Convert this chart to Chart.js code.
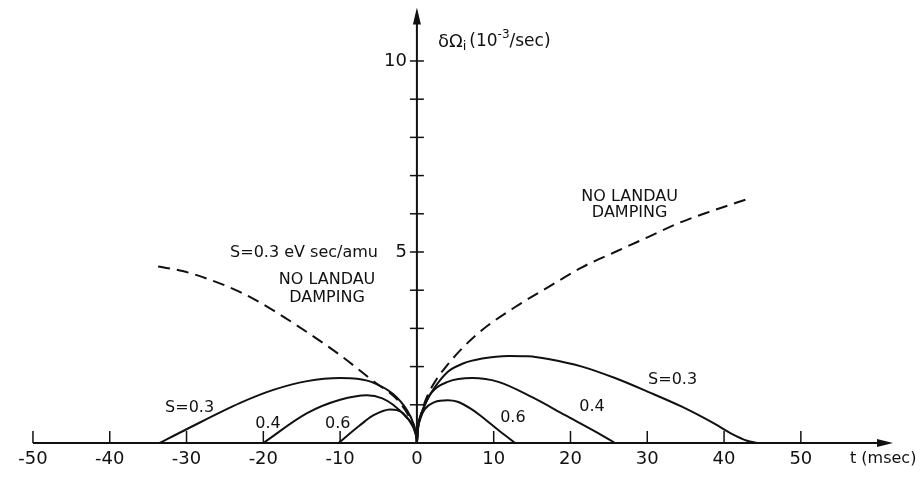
<!DOCTYPE html>
<html>
<head>
<meta charset="utf-8">
<script src="https://cdn.jsdelivr.net/npm/chart.js@4/dist/chart.umd.min.js"></script>
<style>
  body { margin: 0; background: #fff; }
  #wrap { width: 922px; height: 479px; }
</style>
</head>
<body>
<div id="wrap"><canvas id="myChart"></canvas></div>
<script>
// t in msec, values in 10^-3/sec
const xTicks = [-50, -40, -30, -20, -10, 0, 10, 20, 30, 40, 50]
const yTicks = [1, 2, 3, 4, 5, 6, 7, 8, 9, 10]
const yLabelled = [5, 10]

// no Landau damping (dashed)
const noDampLeftT = [-33.7, -30.5, -27.3, -23, -18.7, -14.3, -10, -5.7, -2.2, -0.6, -0.15, 0]
const noDampLeftV = [4.62, 4.5, 4.3, 3.95, 3.47, 2.9, 2.3, 1.62, 1.05, 0.5, 0.2, 0]
const noDampRightT = [0, 0.15, 0.5, 1.4, 2.5, 4, 6, 8.5, 12.8, 17.1, 21.5, 25.8, 30.1, 34.5, 38.8, 43.1]
const noDampRightV = [0, 0.42, 0.74, 1.25, 1.65, 2.05, 2.5, 2.96, 3.56, 4.08, 4.6, 5.0, 5.39, 5.79, 6.1, 6.39]

// S = 0.3
const s03LeftT = [-33.5, -30, -23, -18.7, -14.3, -10, -7.8, -5.7, -3.1, -1.3, -0.4, -0.1, 0]
const s03LeftV = [0, 0.36, 1.05, 1.39, 1.62, 1.70, 1.68, 1.58, 1.28, 0.86, 0.48, 0.22, 0]
const s03RightT = [0, 0.15, 0.5, 1.2, 2.3, 4, 6, 8.5, 11.9, 14.5, 17.1, 21.5, 25.8, 30.1, 34.5, 38.8, 41, 43, 44.3]
const s03RightV = [0, 0.42, 0.72, 1.08, 1.45, 1.86, 2.08, 2.21, 2.28, 2.27, 2.2, 2.0, 1.7, 1.34, 0.95, 0.5, 0.24, 0.06, 0]

// S = 0.4
const s04LeftT = [-20, -14.3, -10, -6.5, -4.5, -3.1, -1.3, -0.4, -0.1, 0]
const s04LeftV = [0, 0.78, 1.13, 1.25, 1.17, 1.0, 0.66, 0.42, 0.2, 0]
const s04RightT = [0, 0.15, 0.5, 1, 1.9, 4, 7.2, 10.6, 15, 19.3, 23.6, 25.8]
const s04RightV = [0, 0.4, 0.7, 0.98, 1.32, 1.6, 1.70, 1.6, 1.2, 0.73, 0.26, 0]

// S = 0.6
const s06LeftT = [-10.2, -7.5, -5.7, -3.5, -2.6, -1.8, -0.5, -0.1, 0]
const s06LeftV = [0, 0.45, 0.72, 0.88, 0.86, 0.78, 0.42, 0.18, 0]
const s06RightT = [0, 0.15, 0.5, 1, 2.3, 4, 5.3, 7, 8.5, 10.6, 12.8]
const s06RightV = [0, 0.38, 0.66, 0.88, 1.07, 1.12, 1.08, 0.9, 0.68, 0.34, 0]

// text notes placed in data units
const notes = [
    { text: "S=0.3 eV sec/amu", t: -14.7, v: 4.97 },
    { text: "NO LANDAU", t: -11.7, v: 4.27 },
    { text: "DAMPING", t: -11.7, v: 3.80 },
    { text: "NO LANDAU", t: 27.7, v: 6.44 },
    { text: "DAMPING", t: 27.7, v: 6.02 },
    { text: "S=0.3", t: -29.6, v: 0.92 },
    { text: "0.4", t: -19.4, v: 0.50 },
    { text: "0.6", t: -10.3, v: 0.50 },
    { text: "S=0.3", t: 33.3, v: 1.65 },
    { text: "0.4", t: 22.8, v: 0.94 },
    { text: "0.6", t: 12.5, v: 0.65 }
]

function pts(ts, vs) {
    return ts.map((t, i) => ({ x: t, y: vs[i] }))
}

function curve(ts, vs, dashed) {
    return {
        data: pts(ts, vs),
        borderColor: "#111",
        borderWidth: 2,
        borderDash: dashed ? [12, 7] : [],
        pointRadius: 0,
        fill: false,
        cubicInterpolationMode: "monotone"
    }
}

const font = "DejaVu Sans"

const axesPlugin = {
    id: "axesPlugin",
    afterDraw(chart) {
        const ctx = chart.ctx
        const xs = chart.scales.x
        const ys = chart.scales.y
        const x0 = xs.getPixelForValue(0)
        const y0 = ys.getPixelForValue(0)
        const xEnd = xs.getPixelForValue(xs.max)
        const yTop = ys.getPixelForValue(ys.max)
        ctx.save()
        ctx.strokeStyle = "#111"
        ctx.fillStyle = "#111"
        ctx.lineWidth = 2

        // x axis with arrow
        ctx.beginPath()
        ctx.moveTo(xs.getPixelForValue(-50), y0)
        ctx.lineTo(xEnd - 10, y0)
        ctx.stroke()
        ctx.beginPath()
        ctx.moveTo(xEnd, y0)
        ctx.lineTo(xEnd - 16, y0 - 4)
        ctx.lineTo(xEnd - 16, y0 + 4)
        ctx.closePath()
        ctx.fill()

        // y axis with arrow
        ctx.beginPath()
        ctx.moveTo(x0, y0)
        ctx.lineTo(x0, yTop + 10)
        ctx.stroke()
        ctx.beginPath()
        ctx.moveTo(x0, yTop)
        ctx.lineTo(x0 - 4, yTop + 17)
        ctx.lineTo(x0 + 4, yTop + 17)
        ctx.closePath()
        ctx.fill()

        // x ticks
        ctx.lineWidth = 1.5
        ctx.font = "18px '" + font + "'"
        ctx.textAlign = "center"
        ctx.textBaseline = "middle"
        xTicks.forEach(t => {
            const px = xs.getPixelForValue(t)
            if (t !== 0) {
                ctx.beginPath()
                ctx.moveTo(px, y0)
                ctx.lineTo(px, y0 - 12)
                ctx.stroke()
            }
            ctx.fillText(String(t), px, y0 + 16)
        })

        // y ticks
        yTicks.forEach(v => {
            const py = ys.getPixelForValue(v)
            ctx.beginPath()
            ctx.moveTo(x0 - 7, py)
            ctx.lineTo(x0 + 7, py)
            ctx.stroke()
        })
        ctx.textAlign = "right"
        yLabelled.forEach(v => {
            ctx.fillText(String(v), x0 - 10, ys.getPixelForValue(v))
        })

        // axis titles
        ctx.textAlign = "left"
        ctx.font = "16px '" + font + "'"
        ctx.fillText("t (msec)", xs.getPixelForValue(56.4), y0 + 16)

        let tx = x0 + 21
        const ty = ys.getPixelForValue(10.5)
        const piece = (s, size, dy) => {
            ctx.font = size + "px '" + font + "'"
            ctx.fillText(s, tx, ty + dy)
            tx += ctx.measureText(s).width
        }
        piece("\u03B4\u03A9", 18, 0)
        piece("i", 13, 5)
        tx += 3
        piece("(10", 17, 0)
        piece("-3", 12, -7)
        piece("/sec)", 17, 0)

        // curve labels
        ctx.textAlign = "center"
        ctx.font = "16px '" + font + "'"
        notes.forEach(n => {
            ctx.fillText(n.text, xs.getPixelForValue(n.t), ys.getPixelForValue(n.v))
        })
        ctx.restore()
    }
}

new Chart(document.getElementById("myChart"), {
    type: "line",
    data: {
        datasets: [
            curve(noDampLeftT, noDampLeftV, true),
            curve(noDampRightT, noDampRightV, true),
            curve(s03LeftT, s03LeftV, false),
            curve(s03RightT, s03RightV, false),
            curve(s04LeftT, s04LeftV, false),
            curve(s04RightT, s04RightV, false),
            curve(s06LeftT, s06LeftV, false),
            curve(s06RightT, s06RightV, false)
        ]
    },
    options: {
        responsive: true,
        maintainAspectRatio: false,
        devicePixelRatio: 1,
        animation: false,
        layout: { padding: { left: 17.6, right: 29, top: 7.5, bottom: 36 } },
        plugins: { legend: { display: false }, tooltip: { enabled: false } },
        scales: {
            x: { type: "linear", min: -52, max: 62, display: false },
            y: { type: "linear", min: 0, max: 11.4, display: false }
        }
    },
    plugins: [axesPlugin]
})
</script>
</body>
</html>
